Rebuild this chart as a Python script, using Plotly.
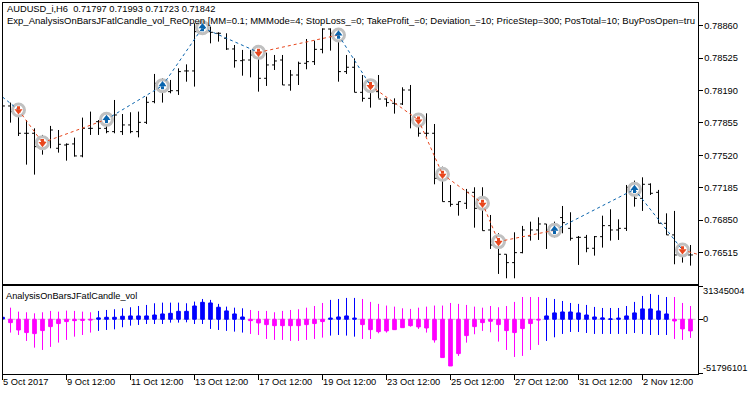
import plotly.graph_objects as go

# price bars, in 1/100000 units
price_open = [78030,78030,77972,77748,77748,77610,77662,77593,77627,77638,77514,77799,77868,77799,77765,77765,77834,77765,77861,78075,78264,78178,78188,78392,78392,78798,78798,78781,78729,78619,78498,78505,78557,78316,78454,78505,78247,78350,78471,78488,78615,78825,78781,78385,78430,78171,78109,78178,78102,78058,78051,78195,77817,77748,77748,77266,77042,77014,77025,77138,76973,76749,76594,76498,76412,76515,76687,76749,76811,76760,76877,76766,76673,76673,76560,76680,76794,76749,76766,77190,77076,77221,77138,76818,76698,76491,76491]
price_high = [78144,78065,78040,77885,77799,77731,77824,77782,77644,77703,77910,77972,77885,77954,78092,77947,77965,77972,78126,78361,78316,78299,78419,78460,78884,78912,78850,78791,78781,78660,78609,78609,78643,78581,78557,78557,78402,78488,78722,78705,78832,78832,78815,78557,78522,78350,78299,78350,78109,78109,78223,78247,77954,77954,77844,77403,77214,77042,77173,77190,77190,76904,76715,76498,76725,76791,76835,76880,76811,76835,76997,76932,76687,76698,76687,76897,76963,76859,77214,77259,77293,77231,77163,76921,76946,76594,76594]
price_low = [77972,77858,77720,77424,77321,77527,77593,77548,77465,77507,77500,77731,77731,77748,77748,77731,77748,77706,77844,78058,78065,78161,78144,78281,78230,78763,78677,78695,78609,78426,78343,78326,78178,78237,78402,78247,78188,78247,78409,78454,78574,78602,78281,78361,78171,78075,78013,78109,78023,77951,78040,77799,77713,77713,77221,77042,76990,76897,76966,76773,76742,76553,76295,76250,76250,76508,76639,76646,76553,76673,76715,76639,76388,76519,76484,76567,76639,76646,76739,76990,76946,77111,76818,76698,76395,76412,76381]
price_close = [78030,77972,77748,77748,77610,77662,77782,77634,77634,77514,77799,77799,77799,77765,77937,77834,77765,77861,78068,78264,78188,78188,78385,78392,78798,78798,78791,78781,78619,78498,78505,78557,78316,78454,78495,78247,78350,78471,78488,78615,78825,78781,78385,78430,78171,78109,78178,78102,78065,78051,78195,77885,77748,77748,77283,77042,77014,77042,77138,76973,76742,76594,76498,76412,76515,76749,76749,76811,76749,76801,76825,76663,76673,76560,76680,76794,76749,76766,77190,77076,77221,77128,76818,76698,76491,76491,76491]

# trade signals: bar index, price, direction
signal_bar = [0, 2, 5, 13, 20, 25, 32, 42, 46, 52, 55, 60, 62, 69, 79, 85, 86.875]
signal_price = [78123,77989,77651,77892,78240,78839,78584,78763,78240,77885,77324,77025,76629,76746,77169,76543,76498]
signal_dir = ["up","down","down","up","up","up","down","up","down","down","down","down","down","up","up","down","down"]

# indicator candles, millions
ind_high = [1.9,11.1,7.3,6.7,5.7,6.7,8.0,7.3,8.3,8.0,7.3,6.7,8.0,8.9,9.6,10.5,11.5,12.7,13.7,15.3,15.9,15.9,15.9,15.3,16.9,19.4,18.5,14.7,12.1,11.1,10.5,8.9,8.0,8.0,6.7,8.0,8.9,9.6,11.1,12.7,15.6,18.5,19.4,20.4,20.4,19.4,16.6,14.7,13.1,12.1,10.5,9.9,11.1,12.1,13.1,13.1,15.6,14.7,13.7,12.1,11.1,12.7,11.5,12.7,16.6,21.3,21.3,21.3,20.4,19.4,17.5,15.6,14.7,13.7,11.8,10.8,10.8,10.8,12.7,16.6,22.3,24.2,23.3,21.3,21.3,15.6,12.7]
ind_low = [0.3,-12.7,-15.0,-20.7,-27.1,-29.3,-26.4,-22.3,-19.7,-16.6,-15.0,-12.7,-11.1,-10.2,-9.6,-7.6,-6.1,-5.4,-4.5,-4.5,-4.5,-3.2,-3.2,-2.9,-4.5,-4.5,-9.2,-10.2,-11.1,-11.8,-12.7,-14.0,-15.0,-18.8,-19.7,-19.7,-20.7,-20.7,-19.7,-18.8,-17.5,-15.6,-15.0,-15.6,-16.6,-18.8,-18.8,-13.4,-12.7,-10.2,-8.0,-7.0,-9.2,-12.7,-22.3,-36.6,-44.6,-35.0,-22.3,-14.3,-11.1,-12.4,-21.3,-29.3,-36.0,-35.0,-29.3,-24.5,-20.7,-17.2,-14.0,-12.1,-12.1,-13.1,-14.0,-14.0,-14.0,-14.0,-14.0,-13.1,-14.0,-15.0,-15.0,-15.0,-18.8,-19.7,-17.8]
ind_close = [1.9,-3.2,-10.2,-12.7,-13.7,-10.8,-7.0,-4.1,-2.2,-1.3,-1.0,-0.6,1.3,1.9,1.9,2.9,3.2,3.2,3.2,4.1,5.1,5.7,7.6,7.6,12.7,16.2,15.6,11.5,8.0,5.1,2.2,-1.3,-3.5,-5.1,-6.1,-6.1,-6.1,-6.1,-5.1,-4.1,-2.2,1.0,2.2,3.2,1.0,-5.1,-9.9,-11.8,-11.1,-9.9,-8.0,-6.1,-7.3,-8.3,-19.7,-36.6,-44.6,-32.8,-15.6,-7.0,-3.2,-1.9,-5.1,-10.8,-12.7,-8.9,-4.1,-0.6,3.2,6.1,7.0,7.0,6.1,4.1,2.2,1.3,0.3,1.0,3.2,6.1,9.9,9.9,8.0,5.1,-1.6,-9.2,-11.1]

price_ticks = [0.78860,0.78525,0.78190,0.77855,0.77520,0.77185,0.76850,0.76515]
date_ticks = [0,8,16,24,32,40,48,56,64,72,80]
date_labels = ["5 Oct 2017","9 Oct 12:00","11 Oct 12:00","13 Oct 12:00","17 Oct 12:00","19 Oct 12:00","23 Oct 12:00","25 Oct 12:00","27 Oct 12:00","31 Oct 12:00","2 Nov 12:00"]
ind_labels = ["31345004","0","-51796101"]
ind_ticks = [31345004,0,-51796101]
line1 = "AUDUSD_i,H6  0.71797 0.71993 0.71723 0.71842"
line2 = "Exp_AnalysisOnBarsJFatlCandle_vol_ReOpen [MM=0.1; MMMode=4; StopLoss_=0; TakeProfit_=0; Deviation_=10; PriceStep=300; PosTotal=10; BuyPosOpen=tru"
ind_name = "AnalysisOnBarsJFatlCandle_vol"

W, H = 750, 394
FONT = "Liberation Sans"
FS = 9.3
BLUE, RED, GREY = "#0A64AD", "#E8471E", "#C0C0C0"
bars = list(range(len(price_open)))
P = lambda v: [a / 1e5 for a in v]
M = lambda v: [a * 1e6 for a in v]
py = lambda y: (H - y) / H

fig = go.Figure()
fig.add_trace(go.Ohlc(x=bars, open=P(price_open), high=P(price_high), low=P(price_low), close=P(price_close),
                      xaxis="x2", yaxis="y", tickwidth=0.3,
                      increasing=dict(line=dict(color="black", width=1)),
                      decreasing=dict(line=dict(color="black", width=1)),
                      hoverinfo="skip", showlegend=False))

mk = [k for k in range(len(signal_bar) - 1) if k > 0]
fig.add_trace(go.Scatter(x=[signal_bar[k] for k in mk], y=[signal_price[k] / 1e5 for k in mk],
                         mode="markers", xaxis="x2", yaxis="y",
                         marker=dict(symbol="circle", size=12, color="white", line=dict(color=GREY, width=3)),
                         hoverinfo="skip", showlegend=False))

# zig-zag signal line: segment colour follows the earlier signal
for colour, d in ((BLUE, "up"), (RED, "down")):
    xs, ys = [], []
    for k in range(len(signal_bar) - 1):
        if signal_dir[k] == d:
            xs += [signal_bar[k], signal_bar[k + 1], None]
            ys += [signal_price[k] / 1e5, signal_price[k + 1] / 1e5, None]
    fig.add_trace(go.Scatter(x=xs, y=ys, mode="lines", xaxis="x2", yaxis="y",
                             line=dict(color=colour, width=1, dash="3px,3px"),
                             hoverinfo="skip", showlegend=False))

for colour, d, sym, s1, s2 in ((BLUE, "up", "triangle-up", 12, -22), (RED, "down", "triangle-down", -12, 22)):
    idx = [k for k in mk if signal_dir[k] == d]
    fig.add_trace(go.Scatter(x=[signal_bar[k] for k in idx], y=[(signal_price[k] + s1) / 1e5 for k in idx],
                             mode="markers", xaxis="x2", yaxis="y",
                             marker=dict(symbol=sym, size=7, color=colour, line=dict(width=0)),
                             hoverinfo="skip", showlegend=False))
    fig.add_trace(go.Scatter(x=[signal_bar[k] for k in idx], y=[(signal_price[k] + s2) / 1e5 for k in idx],
                             mode="markers", xaxis="x2", yaxis="y",
                             marker=dict(symbol="square", size=3, color=colour, line=dict(width=0)),
                             hoverinfo="skip", showlegend=False))

fig.add_trace(go.Candlestick(x=bars, open=[0.3e6 if c > 0 and l > 0 else 0 for c, l in zip(ind_close, ind_low)],
                             high=M(ind_high), low=M(ind_low), close=M(ind_close),
                             xaxis="x", yaxis="y2", whiskerwidth=0,
                             increasing=dict(line=dict(color="#0000FF", width=1), fillcolor="#0000FF"),
                             decreasing=dict(line=dict(color="#FF00FF", width=1), fillcolor="#FF00FF"),
                             hoverinfo="skip", showlegend=False))

fig.add_shape(type="line", xref="x", yref="y2", x0=0, x1=86.875, y0=0, y1=0, layer="below",
              line=dict(color=GREY, width=1, dash="3px,2px"))

ann = []
def text(x, y, s, xref="paper", size=FS):
    ann.append(dict(x=x, y=y, text=s, xref=xref, yref="paper", xanchor="left", yanchor="middle",
                    showarrow=False, align="left", borderpad=0, borderwidth=0,
                    font=dict(family=FONT, size=size, color="black")))
text(7 / W, py(9), line1)
text(7 / W, py(20), line2, size=9.5)
text(6 / W, py(296), ind_name, size=9.2)
for t, s in zip(date_ticks, date_labels):
    text(t, py(382), s, xref="x")
for s, y in zip(ind_labels, (291, 319, 368)):
    text(703 / W, py(y), s)

axis_common = dict(showgrid=False, zeroline=False, showline=True, linecolor="black", linewidth=1, mirror=True)
fig.update_layout(
    width=W, height=H, autosize=False, margin=dict(l=0, r=0, t=0, b=0),
    paper_bgcolor="white", plot_bgcolor="white", showlegend=False, boxgap=0.35,
    font=dict(family=FONT, size=FS, color="black"),
    xaxis=dict(domain=[2.5 / W, 697.5 / W], range=[0, 86.875], anchor="y2", tickmode="array",
               tickvals=date_ticks, ticktext=[""] * len(date_ticks), ticks="outside", ticklen=5,
               tickcolor="black", tickwidth=1, rangeslider=dict(visible=False), **axis_common),
    xaxis2=dict(domain=[2.5 / W, 697.5 / W], range=[0, 86.875], anchor="y", showticklabels=False,
                ticks="", rangeslider=dict(visible=False), **axis_common),
    yaxis=dict(domain=[py(284), py(2.5)], range=[0.76191, 0.79099], anchor="x2", side="right",
               tickmode="array", tickvals=price_ticks, ticktext=["%.5f" % v for v in price_ticks],
               ticks="outside", ticklen=4, tickcolor="black", tickwidth=1, tickfont=dict(family=FONT, size=FS),
               **axis_common),
    yaxis2=dict(domain=[py(373.5), py(286)], range=[-51.8e6, 31.8e6], anchor="x", side="right",
                tickmode="array", tickvals=ind_ticks, ticktext=[""] * 3, ticks="outside", ticklen=4,
                tickcolor="black", tickwidth=1, **axis_common),
    annotations=ann,
)
fig.write_html("out.html", config=dict(displayModeBar=False),
               post_script="document.body.style.margin='0';document.documentElement.style.overflow='hidden';")
